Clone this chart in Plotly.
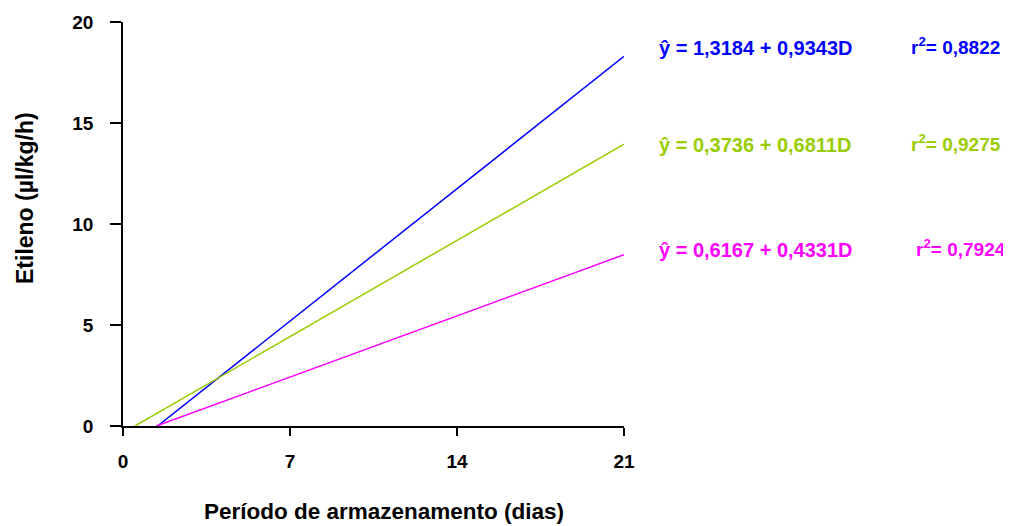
import plotly.graph_objects as go

# data
series_names = ["blue", "green", "pink"]
colors = ["#0000ff", "#99cc00", "#ff00ff"]
x_start = [1.45, 0.5, 1.4]
x_end = [21, 21, 21]
y_start = [0, 0, 0]
y_end = [18.3, 13.95, 8.48]
equations = ["ŷ = 1,3184 + 0,9343D", "ŷ = 0,3736 + 0,6811D", "ŷ = 0,6167 + 0,4331D"]
r2_labels = ["r<sup>2</sup>= 0,8822", "r<sup>2</sup>= 0,9275", "r<sup>2</sup>= 0,7924"]
eq_y = [48, 145, 250]
r2_x = [909, 909, 914]

x_ticks = [0, 7, 14, 21]
y_ticks = [0, 5, 10, 15, 20]

FONT = "Liberation Sans, Arial, sans-serif"
OFF = 8  # default page body margin
W, H = 1011 - OFF, 526 - OFF
L, R, T, B = 123 - OFF, 624 - OFF, 22 - OFF, 426 - OFF


def px_x(p):
    return (p - OFF - L) / (R - L)


def px_y(p):
    return 1 - (p - OFF - T) / (B - T)


fig = go.Figure()
for i in range(3):
    fig.add_trace(go.Scatter(x=[x_start[i], x_end[i]], y=[y_start[i], y_end[i]],
                             mode="lines", line=dict(color=colors[i], width=1.5),
                             showlegend=False, hoverinfo="skip"))

for i in range(3):
    fig.add_annotation(text="<b>" + equations[i] + "</b>", xref="paper", yref="paper",
                       x=px_x(657), y=px_y(eq_y[i]),
                       xanchor="left", yanchor="middle", showarrow=False,
                       font=dict(family=FONT, size=20, color=colors[i]))
    fig.add_annotation(text="<b>" + r2_labels[i] + "</b>", xref="paper", yref="paper",
                       x=px_x(r2_x[i]), y=px_y(eq_y[i] - 2),
                       xanchor="left", yanchor="middle", showarrow=False,
                       font=dict(family=FONT, size=19, color=colors[i]))

# axis titles
fig.add_annotation(text="<b>Período de armazenamento (dias)</b>", xref="paper", yref="paper",
                   x=px_x(384), y=px_y(511), xanchor="center", yanchor="middle",
                   showarrow=False, font=dict(family=FONT, size=22.5, color="black"))
fig.add_annotation(text="<b>Etileno (µl/kg/h)</b>", xref="paper", yref="paper",
                   x=px_x(25), y=px_y(198), xanchor="center", yanchor="middle",
                   textangle=-90, showarrow=False,
                   font=dict(family=FONT, size=23, color="black"))

fig.update_layout(
    width=W, height=H,
    margin=dict(l=L, r=W - R, t=T, b=H - B),
    plot_bgcolor="white", paper_bgcolor="white",
    font=dict(family=FONT, size=19, color="black"),
    xaxis=dict(range=[0, 21], tickvals=x_ticks, showgrid=False, zeroline=False,
               automargin=False,
               showline=True, linecolor="black", linewidth=1.5,
               ticks="outside", ticklen=8, tickwidth=1.5, tickcolor="black",
               tickfont=dict(family=FONT, size=19, weight="bold"), ticklabelstandoff=9),
    yaxis=dict(range=[0, 20], tickvals=y_ticks, showgrid=False, zeroline=False,
               automargin=False,
               showline=True, linecolor="black", linewidth=1.5,
               ticks="outside", ticklen=11, tickwidth=1.5, tickcolor="black",
               tickfont=dict(family=FONT, size=19, weight="bold"), ticklabelstandoff=13),
)

fig.write_html("out.html")
